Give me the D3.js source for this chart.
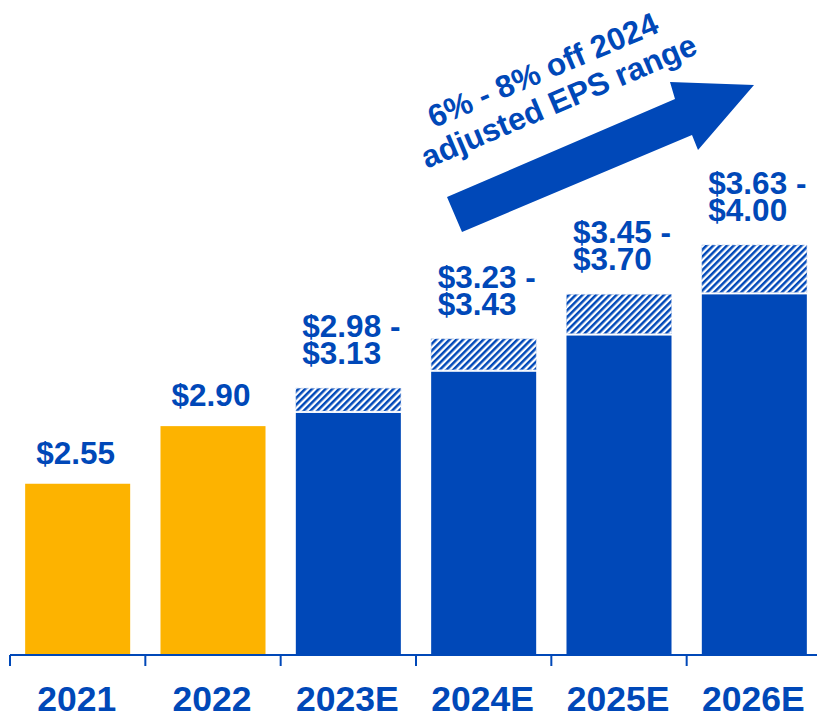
<!DOCTYPE html>
<html>
<head>
<meta charset="utf-8">
<script src="https://cdn.jsdelivr.net/npm/d3@7"></script>
<style>
  body { margin: 0; background: #fff; }
  text { font-family: "Liberation Sans", Arial, sans-serif; font-weight: bold; fill: #0048B8; }
</style>
</head>
<body>
<div id="chart"></div>
<script>
// data
var years = ["2021", "2022", "2023E", "2024E", "2025E", "2026E"];
var actuals = [2.55, 2.90, null, null, null, null];
var lowVals = [null, null, 2.98, 3.23, 3.45, 3.70];
var highVals = [null, null, 3.13, 3.43, 3.70, 4.00];
var labelTop = ["$2.55", "$2.90", "$2.98 -", "$3.23 -", "$3.45 -", "$3.63 -"];
var labelBottom = [null, null, "$3.13", "$3.43", "$3.70", "$4.00"];
var arrowNote = ["6% - 8% off 2024", "adjusted EPS range"];

var gold = "#FDB300";
var blue = "#0048B8";

var width = 817, height = 715;
var baseY = 655;

var svg = d3.select("#chart")
  .append("svg")
  .attr("width", width)
  .attr("height", height);

// hatch for the guidance range
var defs = svg.append("defs");
var pat = defs.append("pattern")
  .attr("id", "hatch")
  .attr("patternUnits", "userSpaceOnUse")
  .attr("width", 4.8)
  .attr("height", 4.8)
  .attr("patternTransform", "rotate(45)");
pat.append("rect").attr("width", 4.8).attr("height", 4.8).attr("fill", "#fff");
pat.append("rect").attr("width", 2.5).attr("height", 4.8).attr("fill", blue);

var x = d3.scaleBand()
  .domain(years)
  .range([10, 822])
  .paddingInner(0.224)
  .paddingOuter(0.112);

var y = d3.scaleLinear()
  .domain([1.51, 4.0])
  .range([baseY, 245]);

var data = years.map(function (d, i) {
  return { year: d, actual: actuals[i], low: lowVals[i], high: highVals[i], top: labelTop[i], bottom: labelBottom[i] };
});

// actual bars
svg.selectAll(".actual")
  .data(data.filter(function (d) { return d.actual != null; }))
  .enter()
  .append("rect")
  .attr("x", function (d) { return x(d.year); })
  .attr("width", x.bandwidth())
  .attr("y", function (d) { return y(d.actual); })
  .attr("height", function (d) { return baseY - y(d.actual); })
  .attr("fill", gold);

var est = data.filter(function (d) { return d.low != null; });

// estimate solid part
svg.selectAll(".low")
  .data(est)
  .enter()
  .append("rect")
  .attr("x", function (d) { return x(d.year); })
  .attr("width", x.bandwidth())
  .attr("y", function (d) { return y(d.low); })
  .attr("height", function (d) { return baseY - y(d.low); })
  .attr("fill", blue);

// hatched range
svg.selectAll(".range")
  .data(est)
  .enter()
  .append("rect")
  .attr("x", function (d) { return x(d.year); })
  .attr("width", x.bandwidth())
  .attr("y", function (d) { return y(d.high); })
  .attr("height", function (d) { return y(d.low) - y(d.high) - 2; })
  .attr("fill", "url(#hatch)")
  .attr("stroke", "#a9bfe6")
  .attr("stroke-width", 0.6)
  .attr("stroke-dasharray", "3,2");

// value labels
svg.selectAll(".single")
  .data(data.filter(function (d) { return d.actual != null; }))
  .enter()
  .append("text")
  .attr("x", function (d) { return x(d.year) + x.bandwidth() / 2 - 2; })
  .attr("y", function (d) { return y(d.actual) - 20; })
  .attr("text-anchor", "middle")
  .attr("font-size", 31.5)
  .text(function (d) { return d.top; });

var rangeLabels = svg.selectAll(".rangeLabel")
  .data(est)
  .enter()
  .append("text")
  .attr("font-size", 31.5)
  .attr("text-anchor", "start");
rangeLabels.append("tspan")
  .attr("x", function (d) { return x(d.year) + x.bandwidth() / 2 - 46; })
  .attr("y", function (d) { return y(d.high) - 24 - 27; })
  .text(function (d) { return d.top; });
rangeLabels.append("tspan")
  .attr("x", function (d) { return x(d.year) + x.bandwidth() / 2 - 46; })
  .attr("y", function (d) { return y(d.high) - 24; })
  .text(function (d) { return d.bottom; });

// axis
var tickXs = years.map(function (d) { return x(d) - x.step() * 0.112; });
svg.append("line")
  .attr("x1", 10).attr("x2", width)
  .attr("y1", baseY).attr("y2", baseY)
  .attr("stroke", blue).attr("stroke-width", 2);
svg.selectAll(".tick")
  .data(tickXs)
  .enter()
  .append("line")
  .attr("x1", function (d) { return d; })
  .attr("x2", function (d) { return d; })
  .attr("y1", baseY)
  .attr("y2", baseY + 11)
  .attr("stroke", blue)
  .attr("stroke-width", 2);

svg.selectAll(".yearLabel")
  .data(years)
  .enter()
  .append("text")
  .attr("x", function (d) { return x(d) + x.bandwidth() / 2 - 1; })
  .attr("y", 711)
  .attr("text-anchor", "middle")
  .attr("font-size", 35.5)
  .text(function (d) { return d; });

// growth arrow
var arrowPts = [[447, 197], [675, 99], [670, 82], [754, 85], [698, 150], [692, 135], [462, 232]];
svg.append("path")
  .attr("d", d3.line()(arrowPts) + "Z")
  .attr("fill", blue);

svg.append("text")
  .attr("transform", "translate(547,80) rotate(-23)")
  .attr("text-anchor", "middle")
  .attr("font-size", 31.5)
  .text(arrowNote[0]);
svg.append("text")
  .attr("transform", "translate(563,111) rotate(-23)")
  .attr("text-anchor", "middle")
  .attr("font-size", 31.5)
  .text(arrowNote[1]);
</script>
</body>
</html>
